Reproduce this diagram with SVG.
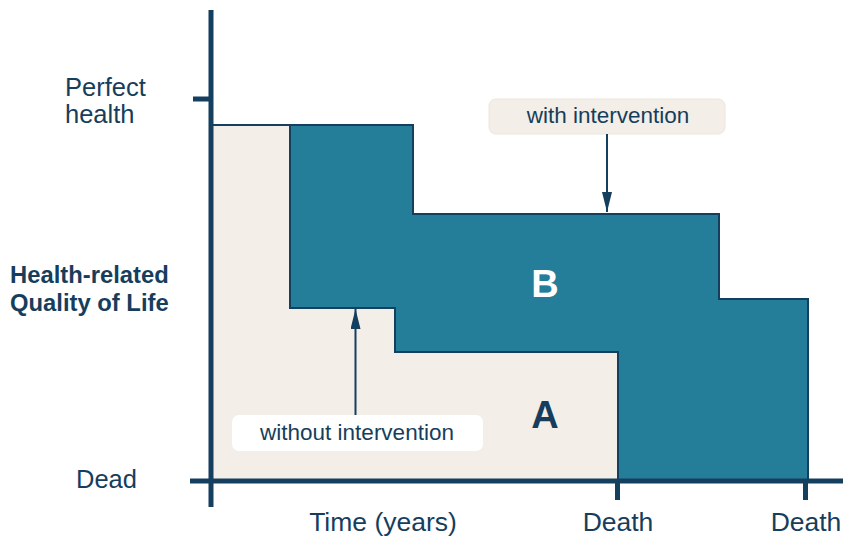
<svg xmlns="http://www.w3.org/2000/svg" width="843" height="538" viewBox="0 0 843 538">
  <defs>
    <style>
      .lbl { font-family: "Liberation Sans", Arial, sans-serif; fill: #163E5C; }
      .axis { stroke: #143F5E; stroke-width: 5; fill: none; }
      .conn { stroke: #143F5E; stroke-width: 2; fill: none; }
    </style>
    <marker id="arrowhead" viewBox="0 0 20 10" refX="20" refY="5" markerUnits="userSpaceOnUse" markerWidth="20" markerHeight="10" orient="auto">
      <path d="M0,0 L20,5 L0,10 Z" fill="#143F5E"/>
    </marker>
  </defs>
  <rect width="843" height="538" fill="#FFFFFF"/>

  <g id="area-A">
    <polygon points="212,125 290,125 290,308 395,308 395,352 618,352 618,481 212,481" fill="#F3EEE7" stroke="#5E6B72" stroke-width="1"/>
    <line x1="212" y1="125" x2="290" y2="125" stroke="#143F5E" stroke-width="2"/>
    <text class="lbl" x="545" y="428" font-size="38" font-weight="bold" text-anchor="middle">A</text>
  </g>

  <g id="area-B">
    <polygon points="290,125 413,125 413,214 719,214 719,299 808,299 808,481 618,481 618,352 395,352 395,308 290,308" fill="#247E9A" stroke="#143F5E" stroke-width="2"/>
    <text x="545" y="297" font-family="Liberation Sans, Arial, sans-serif" font-size="38" font-weight="bold" fill="#FFFFFF" text-anchor="middle">B</text>
  </g>

  <g id="axes">
    <line class="axis" x1="211" y1="10" x2="211" y2="507"/>
    <line class="axis" x1="190" y1="481" x2="843" y2="481"/>
    <line class="axis" x1="193" y1="99" x2="211" y2="99"/>
    <line class="axis" x1="617.5" y1="481" x2="617.5" y2="500"/>
    <line class="axis" x1="805.5" y1="481" x2="805.5" y2="500"/>
  </g>

  <g id="axis-labels">
    <text class="lbl" x="65" y="96" font-size="25.5">Perfect</text>
    <text class="lbl" x="65" y="123" font-size="25.5">health</text>
    <text class="lbl" x="76" y="488" font-size="25.5">Dead</text>
    <text class="lbl" x="10" y="283" font-size="23.8" font-weight="bold">Health-related</text>
    <text class="lbl" x="10" y="311" font-size="23.8" font-weight="bold">Quality of Life</text>
    <text class="lbl" x="383" y="531" font-size="26.5" text-anchor="middle">Time (years)</text>
    <text class="lbl" x="618" y="531" font-size="26.5" text-anchor="middle">Death</text>
    <text class="lbl" x="806" y="531" font-size="26.5" text-anchor="middle">Death</text>
  </g>

  <g id="label-with">
    <rect x="489" y="99" width="236" height="35" rx="7" fill="#F3EEE7" stroke="#ECE6DC" stroke-width="1"/>
    <text class="lbl" x="608" y="123" font-size="22.5" text-anchor="middle">with intervention</text>
  </g>

  <g id="label-without">
    <rect x="232" y="415" width="251" height="36" rx="7" fill="#FFFFFF"/>
    <text class="lbl" x="357" y="440" font-size="22.5" text-anchor="middle">without intervention</text>
  </g>

  <g id="connectors">
    <line class="conn" x1="607" y1="134" x2="607" y2="212" marker-end="url(#arrowhead)"/>
    <line class="conn" x1="355.5" y1="415" x2="355.5" y2="309" marker-end="url(#arrowhead)"/>
  </g>
</svg>
